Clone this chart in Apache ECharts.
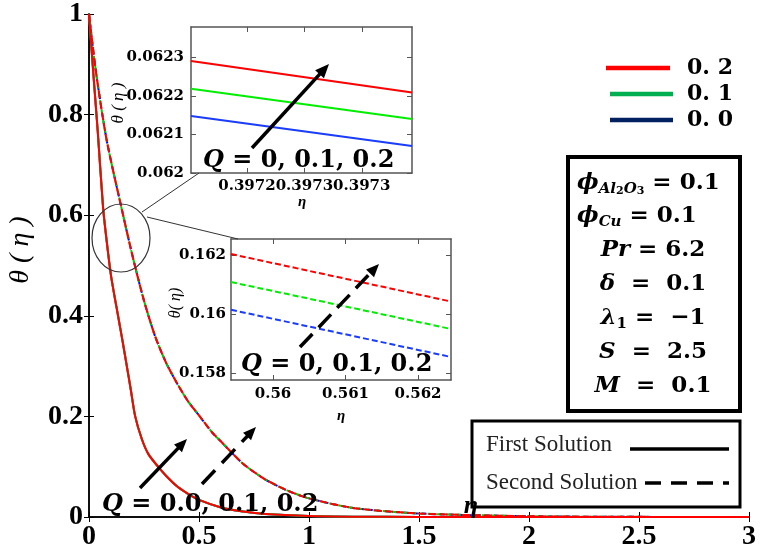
<!DOCTYPE html>
<html><head><meta charset="utf-8">
<script src="https://cdn.jsdelivr.net/npm/echarts@6/dist/echarts.min.js"></script>
<style>html,body{margin:0;padding:0;background:#fff}#c{width:762px;height:552px}</style>
</head><body><div id="c"></div>
<script>
// ---- data ----
const etaFirst   = [0, 0.02, 0.04, 0.064, 0.08, 0.1, 0.132, 0.15, 0.17, 0.19, 0.21, 0.24, 0.27, 0.314, 0.35, 0.4, 0.45, 0.5, 0.6, 0.7, 0.8, 1.0, 1.2, 1.5, 2, 2.5, 3];
const thetaFirst = [1, 0.88, 0.765, 0.615, 0.55, 0.48, 0.4, 0.356, 0.305, 0.253, 0.2, 0.155, 0.125, 0.1, 0.082, 0.061, 0.046, 0.034, 0.019, 0.011, 0.006, 0.002, 0.0007, 0.0002, 0, 0, 0];
const etaSecond   = [0, 0.03, 0.08, 0.15, 0.2, 0.25, 0.3, 0.35, 0.4, 0.45, 0.5, 0.56, 0.6, 0.7, 0.8, 0.9, 1.0, 1.2, 1.5, 2, 2.5, 3];
const thetaSecond = [1, 0.89, 0.75, 0.61, 0.515, 0.43, 0.36, 0.307, 0.266, 0.23, 0.202, 0.168, 0.15, 0.106, 0.075, 0.053, 0.037, 0.018, 0.007, 0.0015, 0.0003, 0];
const qLabels = ['0.2', '0.1', '0.0'];
// inset 1 (first solution, zoom near eta = 0.3972)
const inset1Eta = [0.397181, 0.397335];
const inset1Q02 = [0.062291, 0.062209];
const inset1Q01 = [0.062219, 0.062140];
const inset1Q00 = [0.062148, 0.062070];
const inset1XTicks = [0.39722, 0.39726, 0.3973];
const inset1YTicks = [0.062, 0.0621, 0.0622, 0.0623];
const inset1YTickLabels = ['0.062', '0.0621', '0.0622', '0.0623'];
// inset 2 (second solution, zoom near eta = 0.561)
const inset2Eta = [0.55942, 0.562455];
const inset2Q02 = [0.16203, 0.16042];
const inset2Q01 = [0.16108, 0.15949];
const inset2Q00 = [0.16014, 0.15854];
const inset2XTicks = [0.56, 0.561, 0.562];
const inset2YTicks = [0.158, 0.16, 0.162];
const inset2YTickLabels = ['0.158', '0.16', '0.162'];

const pairs = (xs, ys) => xs.map((x, i) => [x, ys[i]]);
const SERIF = '"Liberation Serif", "Times New Roman", serif';
const MATH = '"DejaVu Serif", serif';

const chart = echarts.init(document.getElementById('c'), null, {renderer: 'canvas'});

const tickStyle = (c) => ({show: true, inside: true, length: 5, lineStyle: {color: c, width: 1}});
const lineAx = (c, w) => ({show: true, lineStyle: {color: c, width: w}});
const insetLabel = {fontFamily: MATH, fontWeight: 'bold', fontSize: 15, color: '#000'};

const xAxes = [
  {gridIndex: 0, type: 'value', min: 0, max: 3, interval: 0.5, position: 'bottom',
   axisLine: lineAx('#000', 1.5), axisTick: tickStyle('#000'), splitLine: {show: false},
   axisLabel: {fontFamily: SERIF, fontWeight: 'bold', fontSize: 28, color: '#000', margin: 6, formatter: v => String(v)}},
  {gridIndex: 0, type: 'value', min: 0, max: 3, interval: 0.5, position: 'top',
   axisLine: lineAx('#000', 1.5), axisTick: tickStyle('#000'), splitLine: {show: false}, axisLabel: {show: false}},
  {gridIndex: 1, type: 'value', min: inset1Eta[0], max: inset1Eta[1], position: 'bottom',
   axisLine: lineAx('#555', 1.5), splitLine: {show: false},
   axisTick: Object.assign(tickStyle('#555'), {customValues: inset1XTicks}),
   axisLabel: Object.assign({customValues: inset1XTicks, margin: 6, formatter: v => v.toFixed(4)}, insetLabel)},
  {gridIndex: 1, type: 'value', min: inset1Eta[0], max: inset1Eta[1], position: 'top',
   axisLine: lineAx('#555', 1.5), splitLine: {show: false},
   axisTick: Object.assign(tickStyle('#555'), {customValues: inset1XTicks}), axisLabel: {show: false}},
  {gridIndex: 2, type: 'value', min: inset2Eta[0], max: inset2Eta[1], position: 'bottom',
   axisLine: lineAx('#555', 1.5), splitLine: {show: false},
   axisTick: Object.assign(tickStyle('#555'), {customValues: inset2XTicks}),
   axisLabel: Object.assign({customValues: inset2XTicks, margin: 7, formatter: v => String(v)}, insetLabel)},
  {gridIndex: 2, type: 'value', min: inset2Eta[0], max: inset2Eta[1], position: 'top',
   axisLine: lineAx('#555', 1.5), splitLine: {show: false},
   axisTick: Object.assign(tickStyle('#555'), {customValues: inset2XTicks}), axisLabel: {show: false}}
];
const yAxes = [
  {gridIndex: 0, type: 'value', min: 0, max: 1, interval: 0.2, position: 'left',
   axisLine: lineAx('#000', 1.5), axisTick: tickStyle('#000'), splitLine: {show: false},
   axisLabel: {fontFamily: SERIF, fontWeight: 'bold', fontSize: 28, color: '#000', margin: 6,
     formatter: v => (v === 0 ? '0' : v === 1 ? '1' : v.toFixed(1))}},
  {gridIndex: 0, type: 'value', min: 0, max: 1, interval: 0.2, position: 'right',
   axisLine: lineAx('#000', 1.5), axisTick: tickStyle('#000'), splitLine: {show: false}, axisLabel: {show: false}},
  {gridIndex: 1, type: 'value', min: 0.062, max: 0.062379, position: 'left',
   axisLine: lineAx('#555', 1.5), splitLine: {show: false},
   axisTick: Object.assign(tickStyle('#555'), {customValues: inset1YTicks}),
   axisLabel: Object.assign({customValues: inset1YTicks, margin: 7,
     formatter: v => inset1YTickLabels[inset1YTicks.findIndex(t => Math.abs(t - v) < 1e-9)]}, insetLabel)},
  {gridIndex: 1, type: 'value', min: 0.062, max: 0.062379, position: 'right',
   axisLine: lineAx('#555', 1.5), splitLine: {show: false},
   axisTick: Object.assign(tickStyle('#555'), {customValues: inset1YTicks}), axisLabel: {show: false}},
  {gridIndex: 2, type: 'value', min: 0.15776, max: 0.16254, position: 'left',
   axisLine: lineAx('#555', 1.5), splitLine: {show: false},
   axisTick: Object.assign(tickStyle('#555'), {customValues: inset2YTicks}),
   axisLabel: Object.assign({customValues: inset2YTicks, margin: 5,
     formatter: v => inset2YTickLabels[inset2YTicks.findIndex(t => Math.abs(t - v) < 1e-9)]}, insetLabel)},
  {gridIndex: 2, type: 'value', min: 0.15776, max: 0.16254, position: 'right',
   axisLine: lineAx('#555', 1.5), splitLine: {show: false},
   axisTick: Object.assign(tickStyle('#555'), {customValues: inset2YTicks}), axisLabel: {show: false}}
];

function line(xi, yi, data, color, width, type, z, dashOffset, smooth) {
  return {type: 'line', xAxisIndex: xi, yAxisIndex: yi, data: data, showSymbol: false, symbol: 'none',
    smooth: smooth || false, z: z || 3, silent: true, animation: false,
    lineStyle: {color: color, width: width, type: type || 'solid', dashOffset: dashOffset || 0}};
}

const S = 0.25;
const series = [
  // main plot, first solution (Q = 0, 0.1, 0.2 overlap)
  line(0, 0, pairs(etaFirst, thetaFirst), '#0000ff', 2, 'solid', 3, 0, S),
  line(0, 0, pairs(etaFirst, thetaFirst), '#00ff00', 2, 'solid', 4, 0, S),
  line(0, 0, pairs(etaFirst, thetaFirst), '#ff0000', 2, 'solid', 5, 0, S),
  // main plot, second solution
  line(0, 0, pairs(etaSecond, thetaSecond), '#0000ff', 2, [5, 4], 3, 0, S),
  line(0, 0, pairs(etaSecond, thetaSecond), '#00cc00', 2, [6, 3], 4, 3, S),
  line(0, 0, pairs(etaSecond, thetaSecond), '#ff0000', 2, [8, 3], 5, 0, S),
  // inset 1
  line(2, 2, pairs(inset1Eta, inset1Q02), '#ff0000', 2),
  line(2, 2, pairs(inset1Eta, inset1Q01), '#00ee00', 2),
  line(2, 2, pairs(inset1Eta, inset1Q00), '#1a3cff', 2),
  // inset 2
  line(4, 4, pairs(inset2Eta, inset2Q02), '#ff0000', 2, [6, 3]),
  line(4, 4, pairs(inset2Eta, inset2Q01), '#00ee00', 2, [6, 3]),
  line(4, 4, pairs(inset2Eta, inset2Q00), '#1a3cff', 2, [6, 3])
];

// ---- annotations ----
function arrow(x1, y1, x2, y2, w, headL, headW, dash) {
  const dx = x2 - x1, dy = y2 - y1, L = Math.hypot(dx, dy), ux = dx / L, uy = dy / L;
  const bx = x2 - ux * headL, by = y2 - uy * headL, px = -uy, py = ux;
  return [
    {type: 'line', shape: {x1: x1, y1: y1, x2: bx + ux * 1, y2: by + uy * 1}, z: 20,
     style: {stroke: '#000', lineWidth: w, lineDash: dash || null}},
    {type: 'polygon', z: 20, shape: {points: [[x2, y2], [bx + px * headW / 2, by + py * headW / 2], [bx - px * headW / 2, by - py * headW / 2]]},
     style: {fill: '#000'}}
  ];
}

const richQ = {
  q: {fontFamily: MATH, fontStyle: 'italic', fontWeight: 'bold', fontSize: 24, color: '#000'},
  t: {fontFamily: MATH, fontWeight: 'bold', fontSize: 24, color: '#000'}
};
function qText(x, y, str) {
  return {type: 'text', x: x, y: y, z: 21, style: {text: '{q|Q}{t| = ' + str + '}', rich: richQ, verticalAlign: 'middle', align: 'left'}};
}

const pStyle = {
  v: {fontFamily: MATH, fontStyle: 'italic', fontWeight: 'bold', fontSize: 23, lineHeight: 28, color: '#000', verticalAlign: 'middle'},
  n: {fontFamily: MATH, fontWeight: 'bold', fontSize: 23, lineHeight: 28, color: '#000', verticalAlign: 'middle'},
  s: {fontFamily: MATH, fontStyle: 'italic', fontWeight: 'bold', fontSize: 15, lineHeight: 14, color: '#000', verticalAlign: 'bottom'},
  ss: {fontFamily: MATH, fontWeight: 'bold', fontSize: 11, lineHeight: 8, color: '#000', verticalAlign: 'bottom'},
  s1: {fontFamily: MATH, fontWeight: 'bold', fontSize: 15, lineHeight: 12, color: '#000', verticalAlign: 'bottom'}
};
function pText(x, y, txt, align) {
  return {type: 'text', x: x, y: y, z: 21, style: {text: txt, rich: pStyle, align: align || 'center', verticalAlign: 'middle'}};
}

const legendColors = ['#ff0000', '#00b050', '#002060'];
const legendYs = [68, 94, 120];

const graphics = [].concat(
  // circle and connectors
  [{type: 'ellipse', shape: {cx: 121, cy: 238, rx: 29, ry: 34}, z: 20, style: {fill: null, stroke: '#333', lineWidth: 1.2}},
   {type: 'line', shape: {x1: 142, y1: 212, x2: 199, y2: 173}, z: 20, style: {stroke: '#333', lineWidth: 1}},
   {type: 'line', shape: {x1: 147, y1: 217, x2: 238, y2: 239}, z: 20, style: {stroke: '#333', lineWidth: 1}}],
  // arrows
  arrow(252, 148, 329, 64, 3.5, 14, 12),
  arrow(300, 347, 379, 264, 3.5, 13, 11, [18, 9]),
  arrow(140, 488, 187, 439, 3.5, 13, 11),
  arrow(202, 484, 256, 427, 3.5, 13, 11, [19, 10]),
  [
    qText(203, 161, '0, 0.1, 0.2'),
    qText(241, 365, '0, 0.1, 0.2'),
    qText(102, 505, '0.0, 0.1, 0.2'),
    // axis titles
    {type: 'text', x: 21, y: 250, rotation: Math.PI / 2, z: 21,
     style: {text: 'θ ( η )', fontFamily: SERIF, fontStyle: 'italic', fontSize: 28, fill: '#000', align: 'center', verticalAlign: 'middle'}},
    {type: 'text', x: 471, y: 506, z: 21,
     style: {text: 'η', fontFamily: SERIF, fontStyle: 'italic', fontWeight: 'bold', fontSize: 26, fill: '#000', align: 'center', verticalAlign: 'middle'}},
    {type: 'text', x: 119, y: 103, rotation: Math.PI / 2, z: 21,
     style: {text: 'θ ( η )', fontFamily: SERIF, fontStyle: 'italic', fontSize: 17, fill: '#000', align: 'center', verticalAlign: 'middle'}},
    {type: 'text', x: 302, y: 202, z: 21,
     style: {text: 'η', fontFamily: SERIF, fontStyle: 'italic', fontWeight: 'bold', fontSize: 15, fill: '#000', align: 'center', verticalAlign: 'middle'}},
    {type: 'text', x: 176, y: 303, rotation: Math.PI / 2, z: 21,
     style: {text: 'θ( η)', fontFamily: SERIF, fontStyle: 'italic', fontSize: 16, fill: '#000', align: 'center', verticalAlign: 'middle'}},
    {type: 'text', x: 341, y: 416, z: 21,
     style: {text: 'η', fontFamily: SERIF, fontStyle: 'italic', fontWeight: 'bold', fontSize: 15, fill: '#000', align: 'center', verticalAlign: 'middle'}},
    // parameter box
    {type: 'rect', shape: {x: 568, y: 157, width: 172, height: 254}, z: 19, style: {fill: '#fff', stroke: '#000', lineWidth: 4}},
    pText(577, 183, '{v|ϕ}{s|Al}{ss|2}{s|O}{ss|3}{n| = 0.1}', 'left'),
    pText(577, 216, '{v|ϕ}{s|Cu}{n| = 0.1}', 'left'),
    pText(653, 250, '{v|Pr}{n| = 6.2}'),
    pText(653, 284, '{v|δ}{n|  =  0.1}'),
    pText(653, 318, '{v|λ}{s1|1}{n| =  −1}'),
    pText(653, 352, '{v|S}{n|  =  2.5}'),
    pText(653, 386, '{v|M}{n|  =  0.1}'),
    // solution box
    {type: 'rect', shape: {x: 472, y: 421, width: 268, height: 86}, z: 19, style: {fill: '#fff', stroke: '#000', lineWidth: 3}},
    {type: 'text', x: 486, y: 445, z: 21, style: {text: 'First Solution', fontFamily: SERIF, fontSize: 23, fill: '#222', align: 'left', verticalAlign: 'middle'}},
    {type: 'text', x: 486, y: 483, z: 21, style: {text: 'Second Solution', fontFamily: SERIF, fontSize: 23, fill: '#222', align: 'left', verticalAlign: 'middle'}},
    {type: 'line', shape: {x1: 630, y1: 449, x2: 729, y2: 449}, z: 21, style: {stroke: '#000', lineWidth: 3.5}},
    {type: 'line', shape: {x1: 645, y1: 483, x2: 729, y2: 483}, z: 21, style: {stroke: '#000', lineWidth: 3.5, lineDash: [16, 10]}}
  ],
  // Q legend
  legendYs.map((y, i) => ({type: 'line', shape: {x1: i === 0 ? 606 : 610, y1: y, x2: i === 0 ? 670 : 673, y2: y}, z: 21,
    style: {stroke: legendColors[i], lineWidth: 4.5}})),
  legendYs.map((y, i) => ({type: 'text', x: 687, y: y, z: 21,
    style: {text: qLabels[i].replace('.', '. '), fontFamily: MATH, fontWeight: 'bold', fontSize: 22, fill: '#000', align: 'left', verticalAlign: 'middle'}}))
);

chart.setOption({
  animation: false,
  backgroundColor: '#fff',
  grid: [
    {left: 89, top: 12, width: 660, height: 505, containLabel: false},
    {left: 191, top: 27, width: 221, height: 146, show: true, backgroundColor: '#fff', borderWidth: 0},
    {left: 231, top: 239, width: 220, height: 141, show: true, backgroundColor: '#fff', borderWidth: 0}
  ],
  xAxis: xAxes,
  yAxis: yAxes,
  series: series,
  graphic: graphics
});
</script>
</body></html>
